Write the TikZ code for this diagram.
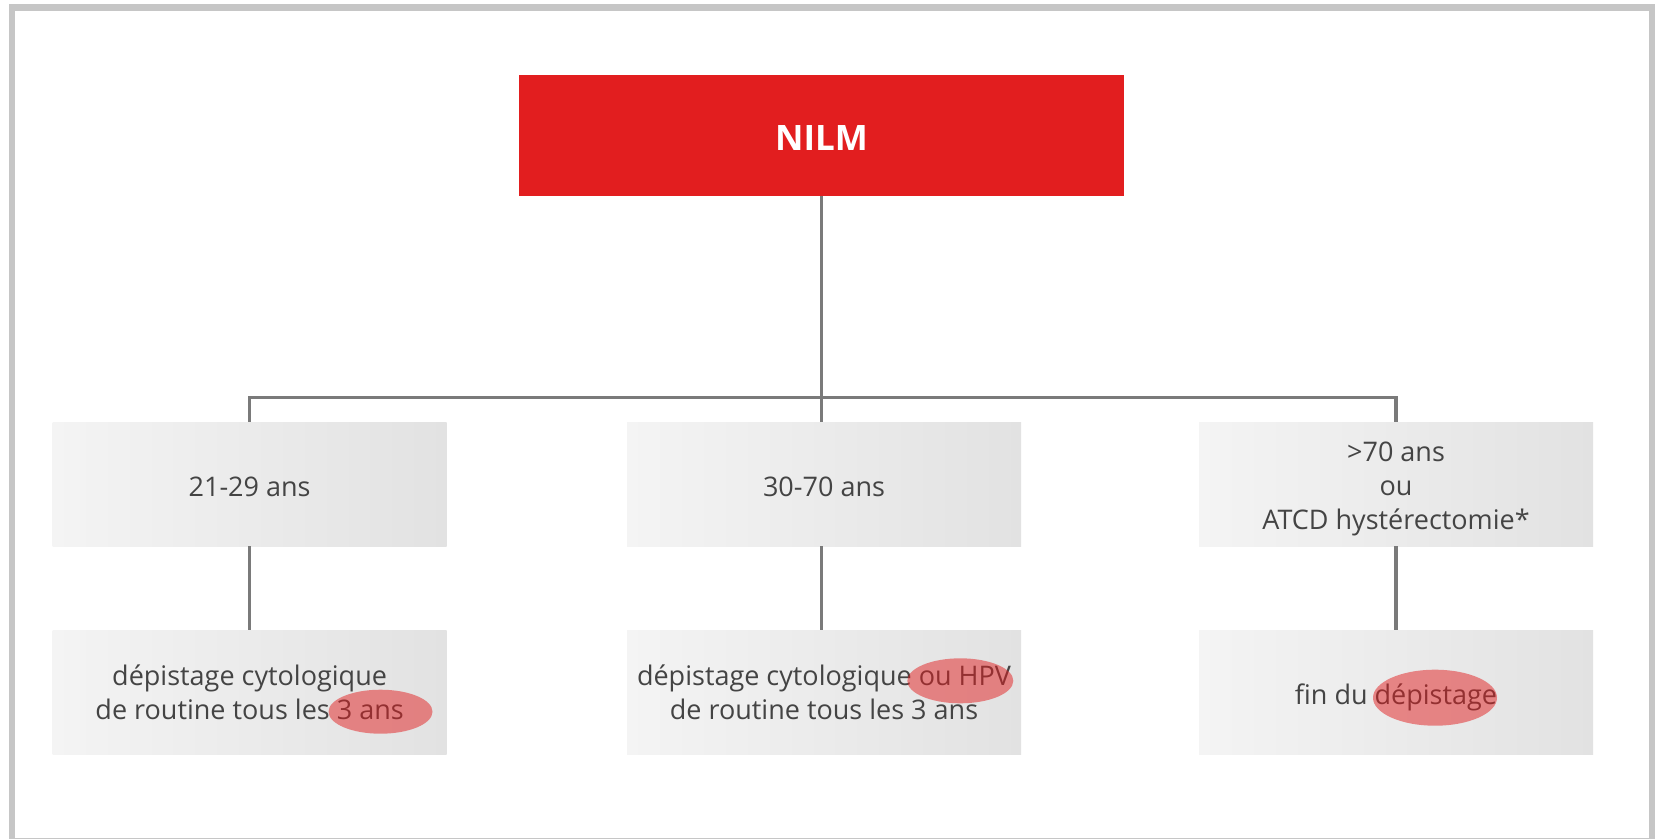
\documentclass[tikz,border=0pt]{standalone}
\usepackage{fontspec}
\setmainfont{Open Sans}
\definecolor{nred}{HTML}{E21E1F}
\definecolor{frame}{HTML}{C6C6C6}
\definecolor{conncol}{HTML}{7A7A7A}
\definecolor{txt}{HTML}{444444}
\definecolor{gleft}{HTML}{F4F4F4}
\definecolor{gright}{HTML}{E2E2E2}
\begin{document}
\begin{tikzpicture}[x=1pt,y=-1pt,
  gbox/.style={rectangle, minimum width=394pt, minimum height=124pt, inner sep=0pt,
    left color=gleft, right color=gright, draw=none},
  lbl/.style={align=center, text=txt, inner sep=0pt,
    font=\fontsize{27}{34}\selectfont},
  redbox/.style={rectangle, minimum width=605pt, minimum height=121pt, inner sep=0pt,
    fill=nred, draw=none},
  redlbl/.style={text=white, inner sep=0pt, font=\fontsize{35}{44}\selectfont\bfseries},
  conn/.style={draw=conncol, line width=3.2pt},
  hl/.style={fill=nred, fill opacity=0.5}]
\useasboundingbox (0,0) rectangle (1655,839);
\fill[white] (0,0) rectangle (1655,839);
% frame
\fill[frame] (9,4) rectangle (15,839);
\fill[frame] (9,4) rectangle (1655,11);
\fill[frame] (1649,4) rectangle (1655,839);
\fill[frame] (9,837.5) rectangle (1655,839);
% nodes
\node[redbox, label={[redlbl, yshift=-3pt]center:NILM}] (nilm) at (821.5,135.5) {};
\node[gbox, label={[lbl, yshift=-3pt]center:21-29 ans}] (l1) at (249.6,484) {};
\node[gbox, label={[lbl, yshift=-3pt]center:30-70 ans}] (m1) at (824,484) {};
\node[gbox, label={[lbl, yshift=-5pt]center:{>70 ans\\ou\\ATCD hystérectomie*}}] (r1) at (1396,484) {};
\node[gbox, label={[lbl]center:{dépistage cytologique\\de routine tous les 3 ans}}] (l2) at (249.6,692) {};
\node[gbox, label={[lbl]center:{dépistage cytologique ou HPV\\de routine tous les 3 ans}}] (m2) at (824,692) {};
\node[gbox, label={[lbl, yshift=-5.5pt]center:fin du dépistage}] (r2) at (1396,692) {};
% connectors
\coordinate (hy) at (0,397.3);
\draw[conn] (nilm.south) -- (nilm.south |- m1.north);
\draw[conn] (l1.north) -- (l1.north |- hy) -- (r1.north |- hy) -- (r1.north);
\draw[conn] (l1.south) -- (l2.north);
\draw[conn] (m1.south -| nilm.south) -- (m2.north -| nilm.south);
\draw[conn] (r1.south) -- (r2.north);
% highlights
\fill[hl] (380.5,711.7) ellipse [x radius=52pt, y radius=22pt];
\fill[hl] (960.3,680.8) ellipse [x radius=53pt, y radius=22.5pt];
\fill[hl] (1435,697.7) ellipse [x radius=62pt, y radius=28pt];
\end{tikzpicture}
\end{document}
